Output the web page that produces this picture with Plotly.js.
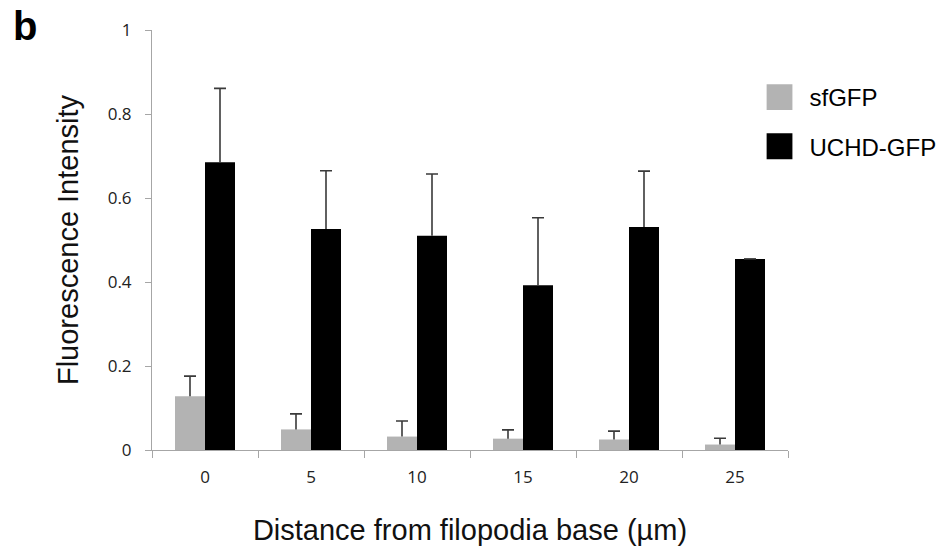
<!DOCTYPE html>
<html>
<head>
<meta charset="utf-8">
<script src="https://cdn.plot.ly/plotly-3.0.1.min.js"></script>
<style>html,body{margin:0;padding:0;background:#fff;}#chart{width:945px;height:548px;}</style>
</head>
<body>
<div id="chart"></div>
<script>
// Data
const categories = ['0', '5', '10', '15', '20', '25'];
const sfGFP = [0.128, 0.049, 0.032, 0.027, 0.025, 0.013];
const sfGFPErr = [0.048, 0.037, 0.037, 0.021, 0.020, 0.015];
const uchdGFP = [0.685, 0.526, 0.510, 0.392, 0.531, 0.455];
const uchdGFPErr = [0.176, 0.139, 0.147, 0.161, 0.133, NaN];
const seriesNames = ['sfGFP', 'UCHD-GFP'];
const yTitle = 'Fluorescence Intensity';
const xTitle = 'Distance from filopodia base (µm)';
const panelLabel = 'b';

const zeros = categories.map(() => 0);
const axisGray = '#a6a6a6';

const traces = [
  {
    type: 'bar', name: seriesNames[0], x: categories, y: sfGFP,
    marker: {color: '#b3b3b3', line: {width: 0}},
    error_y: {type: 'data', symmetric: false, array: sfGFPErr, arrayminus: zeros,
              color: '#3a3a3a', thickness: 1.6, width: 6},
    legendgroup: 'a'
  },
  {
    type: 'bar', name: seriesNames[1], x: categories, y: uchdGFP,
    marker: {color: '#000000', line: {width: 0}},
    error_y: {type: 'data', symmetric: false, array: uchdGFPErr, arrayminus: zeros,
              color: '#3a3a3a', thickness: 1.6, width: 6},
    legendgroup: 'b'
  }
];

const layout = {
  width: 945, height: 548,
  margin: {l: 152, r: 157, t: 30, b: 98, autoexpand: false},
  paper_bgcolor: '#fff', plot_bgcolor: '#fff',
  barmode: 'group', bargap: 0.434, bargroupgap: 0,
  showlegend: true,
  legend: {
    x: 0.9395, xanchor: 'left', y: 0.893, yanchor: 'top',
    font: {family: 'Liberation Sans, Arial, sans-serif', size: 24, color: '#000'},
    traceorder: 'grouped', tracegroupgap: 15, itemwidth: 50,
    bgcolor: 'rgba(0,0,0,0)'
  },
  xaxis: {
    type: 'category', showline: true, linecolor: axisGray, linewidth: 1,
    ticks: 'outside', tickson: 'boundaries', ticklen: 7, tickcolor: axisGray, tickwidth: 1,
    showgrid: false, zeroline: false, ticklabelstandoff: 12,
    tickfont: {family: 'Open Sans, sans-serif', size: 17, color: '#222'},
    title: {text: xTitle, standoff: 32,
            font: {family: 'Liberation Sans, Arial, sans-serif', size: 29, color: '#111'}}
  },
  yaxis: {
    range: [0, 1], dtick: 0.2, showline: true, linecolor: axisGray, linewidth: 1,
    ticks: 'outside', ticklen: 6, tickcolor: axisGray, tickwidth: 1,
    showgrid: false, zeroline: false, ticklabelstandoff: 10,
    tickfont: {family: 'Open Sans, sans-serif', size: 17, color: '#222'},
    title: {text: yTitle, standoff: 20,
            font: {family: 'Liberation Sans, Arial, sans-serif', size: 29, color: '#111'}}
  },
  annotations: [{
    text: '<b>' + panelLabel + '</b>', xref: 'paper', yref: 'paper',
    x: -0.222, y: 1.066, xanchor: 'left', yanchor: 'top', showarrow: false,
    font: {family: 'Liberation Sans, Arial, sans-serif', size: 40, color: '#000'}
  }]
};

Plotly.newPlot('chart', traces, layout, {displayModeBar: false, staticPlot: true}).then(() => {
  // enlarge legend swatches (keep Plotly's own centring translate)
  document.querySelectorAll('.legendpoints path').forEach(p => {
    const t = p.getAttribute('transform') || '';
    p.setAttribute('transform', t + ' scale(2.15)');
  });
  // plus-only error bars: drop the base cap Plotly draws at the bar top
  document.querySelectorAll('.errorbar path.yerror').forEach(p => {
    const d = p.getAttribute('d') || '';
    p.setAttribute('d', d.replace(/m-[\d.]+,0h[\d.]+$/, ''));
  });
});
</script>
</body>
</html>
